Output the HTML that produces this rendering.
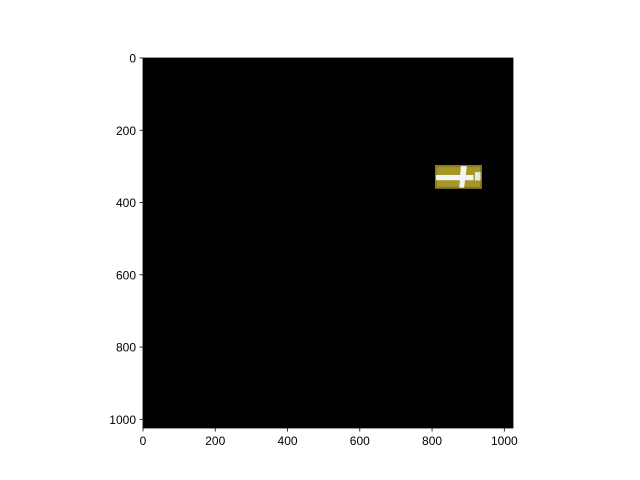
<!DOCTYPE html>
<html><head><meta charset="utf-8"><style>
body{margin:0;background:#fff}
svg{display:block;font-family:"Liberation Sans","DejaVu Sans",sans-serif}
</style></head><body>
<svg width="640" height="480" id="c"></svg>
<script>
const xTicks=[0,200,400,600,800,1000];
const yTicks=[0,200,400,600,800,1000];
const patchX=[808,938];
const patchY=[296,362];
const NS="http://www.w3.org/2000/svg";
const svg=document.getElementById('c');
const L=143,T=58,S=370/1024;
const sx=v=>L+v*S, sy=v=>T+v*S;
function mk(t,a,p){const e=document.createElementNS(NS,t);for(const k in a)e.setAttribute(k,a[k]);(p||svg).appendChild(e);return e;}
const img=mk('rect',{x:L,y:T,width:1024*S,height:1024*S,fill:'#000'});


const g=mk('g',{});


const px=sx(patchX[0]),py=sy(patchY[0]),pw=(patchX[1]-patchX[0])*S,ph=(patchY[1]-patchY[0])*S;
mk('rect',{x:px,y:py,width:pw,height:ph,fill:'#8a7a1c'},g);
mk('rect',{x:px+2,y:py+2,width:pw-4,height:ph-4,fill:'#b8a830',opacity:0.6},g);
mk('rect',{x:px+1,y:py+ph*0.42,width:pw*0.8,height:ph*0.22,fill:'#f4f4f4'},g);
mk('polygon',{points:`${px+pw*0.55},${py+ph*0.05} ${px+pw*0.68},${py+ph*0.05} ${px+pw*0.62},${py+ph*0.95} ${px+pw*0.52},${py+ph*0.95}`,fill:'#f4f4f4'},g);
mk('rect',{x:px+pw*0.85,y:py+ph*0.3,width:pw*0.12,height:ph*0.35,fill:'#e8e8e8'},g);
const ax=mk('g',{});


mk('rect',{x:L,y:T,width:1024*S,height:1024*S,fill:'none',stroke:'#000','stroke-width':0.8},ax);
xTicks.forEach(v=>{
 const x=sx(v);
 mk('line',{x1:x,y1:T+1024*S,x2:x,y2:T+1024*S+3.5,stroke:'#000','stroke-width':0.8},ax);
 const t=mk('text',{x:x,y:T+1024*S+17,'text-anchor':'middle','font-size':12},ax);t.textContent=v;
 
 
});
yTicks.forEach(v=>{
 const y=sy(v);
 mk('line',{x1:L-3.5,y1:y,x2:L,y2:y,stroke:'#000','stroke-width':0.8},ax);
 const t=mk('text',{x:L-7,y:y+4.5,'text-anchor':'end','font-size':12},ax);t.textContent=v;
 
 
});
</script>
</body></html>
